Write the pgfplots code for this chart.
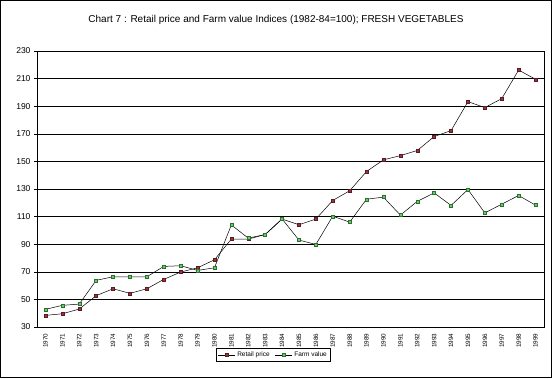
\documentclass[border=0pt]{standalone}
\usepackage{fontspec}
\setmainfont{Liberation Sans}
\usepackage{pgfplots}
\pgfplotsset{compat=1.18}
\definecolor{retail}{HTML}{993344}
\definecolor{retaild}{HTML}{5A1A22}
\definecolor{farm}{HTML}{66CC66}
\definecolor{farmd}{HTML}{2E6E2E}
\begin{document}
\begin{tikzpicture}
\begin{axis}[
  scale only axis,
  width=507pt, height=276pt,
  xmin=-0.5, xmax=29.5,
  ymin=30, ymax=230,
  ytick={30,50,...,230},
  xtick={0,...,29},
  xticklabels={1970,1971,1972,1973,1974,1975,1976,1977,1978,1979,1980,1981,1982,1983,1984,1985,1986,1987,1988,1989,1990,1991,1992,1993,1994,1995,1996,1997,1998,1999},
  x tick label style={rotate=90, anchor=east, font=\fontsize{6.3}{7}\selectfont},
  y tick label style={font=\fontsize{8.5}{9}\selectfont},
  /pgf/number format/assume math mode=true,
  xtick style={draw=none},
  minor xtick={-0.5,0.5,...,29.5},
  minor x tick style={black, line width=0.5pt},
  minor tick length=3pt,
  major tick length=3pt,
  ytick style={black, line width=0.5pt},
  tick align=outside,
  xtick pos=bottom, ytick pos=left,
  ymajorgrids,
  grid style={black, line width=0.6pt},
  axis line style={black, line width=0.6pt},
  legend style={at={(0.466,-0.101)}, anchor=center, draw=black, line width=0.5pt,
    font=\fontsize{6.5}{7}\selectfont, legend columns=2, inner sep=1.5pt,
    /tikz/every even column/.append style={column sep=3pt}},
]
\addplot[black, line width=0.5pt, mark=square*, mark size=1.5pt,
  mark options={fill=retail, draw=retaild, line width=0.3pt}] coordinates {
(0,38.4)(1,39.6)(2,43)(3,52.7)(4,57.7)(5,54.4)(6,57.7)(7,64.5)(8,69.8)(9,72.9)
(10,78.7)(11,93.7)(12,93.7)(13,97)(14,108.2)(15,104.1)(16,108.2)(17,121.7)(18,128.7)(19,142.7)
(20,151.1)(21,154.2)(22,157.9)(23,168)(24,172.3)(25,193.3)(26,189)(27,195.5)(28,216.2)(29,209.5)};
\addlegendentry{Retail price}
\addplot[black, line width=0.5pt, mark=square*, mark size=1.5pt,
  mark options={fill=farm, draw=farmd, line width=0.3pt}] coordinates {
(0,42.8)(1,45.7)(2,46.6)(3,63.8)(4,66.4)(5,66.4)(6,66.4)(7,73.9)(8,74.4)(9,71)
(10,72.9)(11,104)(12,94.4)(13,97)(14,108.3)(15,93)(16,89.8)(17,110.3)(18,106)(19,122.6)
(20,124.1)(21,111.1)(22,121)(23,127.2)(24,118.1)(25,129.6)(26,112.7)(27,119)(28,125.3)(29,118.3)};
\addlegendentry{Farm value}
\end{axis}
\node[font=\fontsize{10}{12}\selectfont] at (239pt,307pt) {Chart 7 : Retail price and Farm value Indices (1982-84=100); FRESH VEGETABLES};
\draw[black, line width=1.5pt] (-36.25pt,-50.25pt) rectangle (514.25pt,326.25pt);
\pgfresetboundingbox
\path (-37pt,-51pt) rectangle (515pt,327pt);
\end{tikzpicture}
\end{document}
